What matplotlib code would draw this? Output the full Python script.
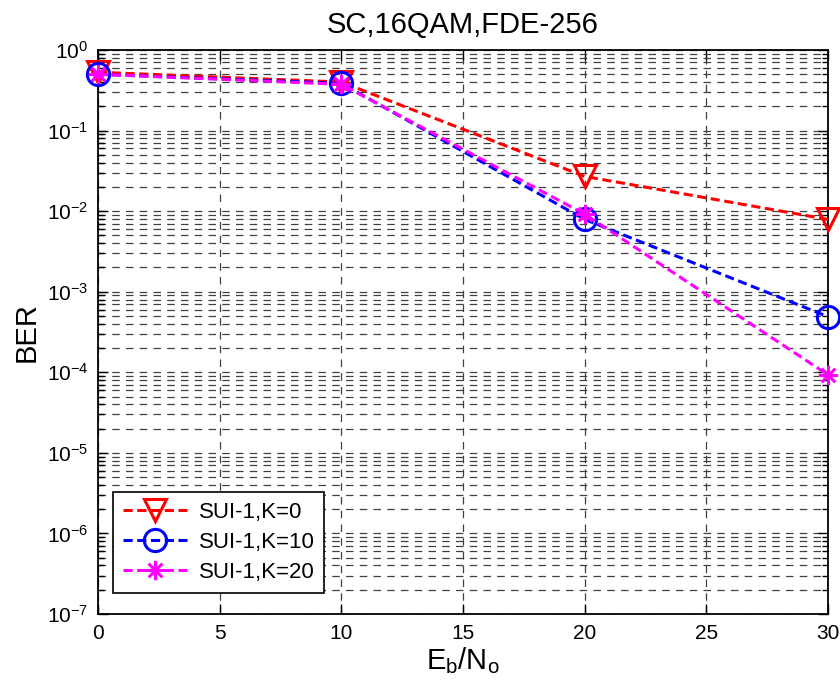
import matplotlib
matplotlib.use("Agg")
import numpy as np
import matplotlib.pyplot as plt
from matplotlib.path import Path
from matplotlib.ticker import LogLocator, NullFormatter, FixedLocator

plt.rcParams['font.family'] = ['Liberation Sans', 'DejaVu Sans']
plt.rcParams['mathtext.default'] = 'regular'

ebno = [0, 10, 20, 30]
ber_k0 = [0.53, 0.40, 0.027, 0.0079]
ber_k10 = [0.50, 0.385, 0.0079, 0.00049]
ber_k20 = [0.50, 0.375, 0.0092, 0.000093]
labels = ['SUI-1,K=0', 'SUI-1,K=10', 'SUI-1,K=20']
xticks = [0, 5, 10, 15, 20, 25, 30]

# eight-armed asterisk marker built from four stroked segments
_ang = np.deg2rad([90, 0, 45, 135])
_verts, _codes = [], []
for a in _ang:
    _verts += [(np.cos(a), np.sin(a)), (-np.cos(a), -np.sin(a))]
    _codes += [Path.MOVETO, Path.LINETO]
asterisk = Path(_verts, _codes)

fig = plt.figure(figsize=(8.4, 6.96), dpi=100)
ax = fig.add_axes([98/840, 1 - 614/696, 730/840, 564/696])

common = dict(ls='--', dashes=(3, 1.5), lw=2.2, clip_on=False, zorder=5)
ax.plot(ebno, ber_k0, color='#ff0000', marker='v', ms=16, mfc='none', mew=2.2,
        label=labels[0], **common)
ax.plot(ebno, ber_k10, color='#0000ff', marker='o', ms=16, mfc='none', mew=2.2,
        label=labels[1], **common)
ax.plot(ebno, ber_k20, color='#ff00ff', marker=asterisk, ms=14, mfc='none', mew=2.2,
        label=labels[2], **common)

ax.set_yscale('log')
ax.set_xlim(0, 30)
ax.set_ylim(1e-7, 1)
ax.xaxis.set_major_locator(FixedLocator(xticks))
ax.yaxis.set_major_locator(LogLocator(base=10, numticks=20))
ax.yaxis.set_minor_locator(LogLocator(base=10, subs=range(2, 10), numticks=100))
ax.yaxis.set_minor_formatter(NullFormatter())

ax.grid(True, which='major', axis='both', ls=(0, (6, 5)), color='#404040', lw=0.9)
ax.grid(True, which='minor', axis='y', ls=(0, (6, 5)), color='#404040', lw=0.9)

ax.tick_params(which='both', direction='in', top=True, right=True, labelsize=15,
               width=1, pad=7)
ax.tick_params(which='major', length=7)
ax.tick_params(which='minor', length=4)
for s in ax.spines.values():
    s.set_linewidth(1.3)

ax.set_title('SC,16QAM,FDE-256', fontsize=21, pad=12)
ax.set_xlabel('E$_b$/N$_o$', fontsize=21, labelpad=2)
ax.set_ylabel('BER', fontsize=21, labelpad=4)

leg = ax.legend(loc='lower left', bbox_to_anchor=(113/840, 1 - 593/696),
                bbox_transform=fig.transFigure, fontsize=16,
                frameon=True, fancybox=False, edgecolor='black', framealpha=1,
                handlelength=2.9, borderpad=0.45, labelspacing=0.4,
                handletextpad=0.5, borderaxespad=0)
leg.get_frame().set_linewidth(1.2)
leg.set_zorder(10)

fig.savefig('out.png', dpi=100)
